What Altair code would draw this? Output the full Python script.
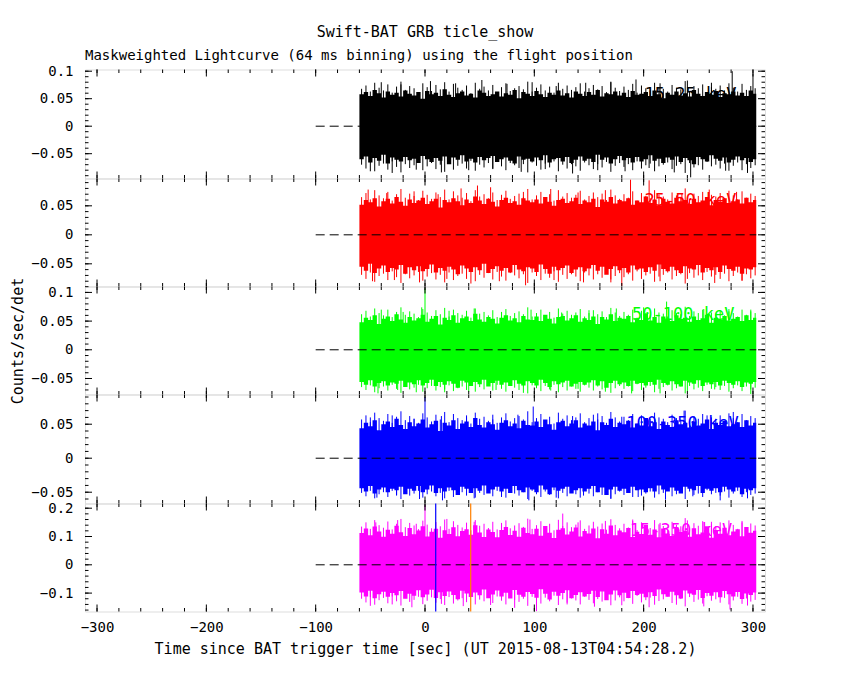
import altair as alt
import pandas as pd
import numpy as np

# ---------------- chart text ----------------
TITLE = "Swift-BAT GRB ticle_show"
SUBTITLE = "Maskweighted Lightcurve (64 ms binning) using the flight position"
XTITLE = "Time since BAT trigger time [sec] (UT 2015-08-13T04:54:28.2)"
YTITLE = "Counts/sec/det"

bands = ["15-25 keV", "25-50 keV", "50-100 keV", "100-350 keV", "15-350 keV"]
colors = ["#000000", "#ff0000", "#00ff00", "#0000ff", "#ff00ff"]

# ---------------- axes ----------------
x_domain = [-311, 311]
x_major = [-300, -200, -100, 0, 100, 200, 300]
x_minor = [-300, -280, -260, -240, -220, -200, -180, -160, -140, -120, -100, -80, -60, -40, -20,
           0, 20, 40, 60, 80, 100, 120, 140, 160, 180, 200, 220, 240, 260, 280, 300]
y_domains = [[-0.0951, 0.1031], [-0.0891, 0.0971], [-0.0779, 0.1103], [-0.0666, 0.0937], [-0.165, 0.2166]]
y_major = [[-0.05, 0, 0.05, 0.1], [-0.05, 0, 0.05], [-0.05, 0, 0.05, 0.1], [-0.05, 0, 0.05], [-0.1, 0, 0.1, 0.2]]
y_minor_step = [0.01, 0.01, 0.01, 0.01, 0.02]
panel_heights = [109, 108, 108, 109, 108]

# ---------------- light-curve envelopes (4 s bins from -60 s, units of 0.001) ----------------
T_START = -60
BIN = 4
T_END = 303
ZERO_FROM = -100

p1_hi = [58,62,55,66,60,52,63,57,61,54, 65,59,56,62,50,64,58,61,55,67, 57,53,60,63,56,59,52,65,61,55,
         58,63,54,60,57,66,51,62,59,55, 64,58,53,61,57,65,56,60,52,63, 59,55,62,57,66,54,60,58,63,56,
         61,53,64,57,59,62,55,65,58,51, 61,57,63,56,60,54,66,59,55,62, 57,64,53,60,58,63,56,61,55,65, 59]
p1_lo = [-60,-55,-66,-58,-63,-52,-68,-57,-61,-64, -56,-62,-59,-67,-54,-60,-65,-58,-63,-55, -69,-57,-61,-53,-64,-59,-66,-56,-62,-58,
         -54,-65,-60,-57,-63,-68,-55,-61,-59,-64, -57,-62,-53,-66,-60,-58,-64,-56,-67,-61, -55,-63,-59,-65,-52,-61,-57,-68,-60,-54,
         -62,-58,-66,-56,-64,-60,-53,-63,-59,-67, -57,-61,-55,-65,-58,-62,-69,-56,-60,-64, -53,-59,-63,-57,-66,-61,-55,-62,-58,-65, -60]
p2_hi = [52,60,56,63,49,58,62,54,65,57, 50,61,55,59,64,53,58,62,47,60, 56,63,58,51,61,55,66,59,53,62,
         57,49,60,64,55,58,52,63,59,56, 61,54,65,57,50,60,62,55,58,64, 53,59,56,62,48,61,57,65,54,60,
         58,63,52,59,56,66,55,61,50,62, 57,54,64,58,60,53,62,56,59,65, 51,60,57,63,55,58,61,54,64,56, 60]
p2_lo = [-55,-62,-50,-66,-58,-53,-64,-57,-60,-52, -67,-56,-61,-54,-63,-59,-51,-65,-57,-62, -55,-60,-68,-53,-58,-64,-56,-61,-50,-66,
         -59,-54,-62,-57,-65,-52,-60,-63,-56,-58, -64,-51,-59,-67,-55,-61,-57,-53,-66,-60, -56,-63,-58,-52,-62,-55,-69,-59,-54,-61,
         -57,-65,-53,-60,-58,-64,-56,-62,-51,-59, -63,-55,-61,-66,-54,-58,-60,-52,-65,-57, -61,-56,-64,-53,-59,-62,-55,-67,-58,-60, -56]
p3_hi = [48,56,52,60,45,54,58,50,62,53, 47,57,51,55,61,49,54,59,44,56, 52,60,47,55,58,50,63,53,49,57,
         54,46,56,60,51,55,48,59,53,52, 58,50,61,54,46,57,59,51,55,60, 49,55,52,58,45,57,53,62,50,56,
         54,59,48,55,52,63,51,57,47,58, 53,50,60,54,56,49,58,52,55,61, 47,56,53,59,51,54,57,50,60,52, 56]
p3_lo = [-56,-61,-53,-64,-58,-55,-62,-57,-59,-54, -65,-57,-60,-53,-62,-58,-52,-63,-56,-61, -55,-59,-66,-54,-57,-63,-56,-60,-52,-64,
         -58,-54,-61,-57,-63,-53,-59,-62,-55,-58, -62,-52,-58,-65,-55,-60,-57,-54,-64,-59, -56,-61,-57,-53,-62,-55,-66,-58,-54,-60,
         -57,-63,-54,-59,-58,-62,-56,-61,-52,-58, -61,-55,-60,-64,-54,-57,-59,-53,-63,-57, -60,-56,-62,-54,-58,-61,-55,-65,-57,-59, -56]
p4_hi = [44,52,47,56,41,50,54,46,58,49, 43,53,47,51,57,45,50,55,40,52, 48,56,43,51,54,46,59,49,45,53,
         50,42,52,56,47,51,44,55,49,48, 54,46,57,50,42,53,55,47,51,56, 45,51,48,54,41,53,49,58,46,52,
         50,55,44,51,48,59,47,53,43,54, 49,46,56,50,52,45,54,48,51,57, 43,52,49,55,47,50,53,46,56,48, 52]
p4_lo = [-44,-49,-41,-52,-46,-43,-50,-45,-47,-42, -53,-45,-48,-41,-50,-46,-40,-51,-44,-49, -43,-47,-54,-42,-45,-51,-44,-48,-40,-52,
         -46,-42,-49,-45,-51,-41,-47,-50,-43,-46, -50,-40,-46,-53,-43,-48,-45,-42,-52,-47, -44,-49,-45,-41,-50,-43,-54,-46,-42,-48,
         -45,-51,-42,-47,-46,-50,-44,-49,-40,-46, -49,-43,-48,-52,-42,-45,-47,-41,-51,-45, -48,-44,-50,-42,-46,-49,-43,-53,-45,-47, -44]
p5_hi = [112,128,104,135,118,99,124,110,138,115, 102,130,108,121,136,100,117,127,96,122, 109,133,101,119,126,106,140,114,98,125,
         116,97,123,134,105,120,99,131,112,108, 127,103,137,113,95,124,129,107,118,132, 100,119,111,128,94,126,110,139,104,121,
         115,130,98,117,109,141,106,125,97,128, 111,102,133,116,120,99,129,108,114,136, 96,122,110,131,104,118,126,101,134,113, 120]
p5_lo = [-98,-112,-92,-118,-104,-95,-113,-100,-108,-93, -120,-102,-109,-90,-115,-105,-88,-117,-97,-110,
         -94,-107,-122,-92,-101,-114,-98,-108,-87,-118, -105,-91,-112,-99,-119,-89,-106,-113,-96,-103,
         -116,-86,-102,-123,-95,-109,-100,-90,-118,-107, -97,-112,-103,-92,-114,-94,-125,-105,-91,-108,
         -99,-117,-93,-107,-102,-115,-97,-110,-87,-104, -113,-95,-108,-119,-91,-101,-106,-89,-117,-100,
         -109,-97,-115,-93,-104,-112,-96,-121,-101,-107, -98]

# ---------------- hair spikes, one per bin at its centre (units of 0.001) ----------------
p1_up = [68,74,63,79,70,65,76,61,72,81, 66,73,69,62,78,71,64,75,67,80, 63,77,70,66,74,60,79,68,72,65,
         75,62,71,78,64,69,73,67,81,63, 70,76,65,72,61,79,68,74,66,71, 78,63,69,75,67,73,62,80,70,64,
         72,66,77,61,74,69,65,79,71,68, 63,75,70,67,82,64,73,69,76,62, 71,68,74,65,78,70,63,77,66,73, 69]
p1_dn = [-70,-77,-66,-82,-72,-68,-79,-64,-74,-84, -69,-76,-71,-65,-80,-73,-67,-78,-70,-83, -66,-79,-72,-68,-77,-63,-81,-70,-75,-67,
         -78,-65,-73,-80,-67,-71,-76,-69,-84,-66, -72,-79,-68,-75,-64,-82,-70,-77,-69,-73, -81,-66,-71,-78,-69,-75,-65,-83,-72,-67,
         -74,-69,-80,-64,-77,-71,-68,-82,-73,-70, -66,-78,-72,-69,-85,-67,-75,-71,-79,-65, -73,-70,-77,-68,-81,-72,-66,-80,-69,-76, -71]
p2_up = [65,72,61,77,68,63,74,59,70,79, 64,71,67,60,76,69,62,73,65,78, 61,75,68,64,72,58,77,66,70,63,
         73,60,69,76,62,67,71,65,79,61, 68,74,63,70,59,77,66,72,64,69, 76,61,67,73,65,71,60,78,68,62,
         70,64,75,59,72,67,63,77,69,66, 61,73,68,65,80,62,71,67,74,60, 69,66,72,63,76,68,61,75,64,71, 67]
p2_dn = [-69,-76,-65,-81,-71,-67,-78,-63,-73,-83, -68,-75,-70,-64,-79,-72,-66,-77,-69,-82, -65,-78,-71,-67,-76,-62,-80,-69,-74,-66,
         -77,-64,-72,-79,-66,-70,-75,-68,-83,-65, -71,-78,-67,-74,-63,-81,-69,-76,-68,-72, -80,-65,-70,-77,-68,-74,-64,-82,-71,-66,
         -73,-68,-79,-63,-76,-70,-67,-81,-72,-69, -65,-77,-71,-68,-84,-66,-74,-70,-78,-64, -72,-69,-76,-67,-80,-71,-65,-79,-68,-75, -70]
p3_up = [62,68,58,72,64,60,70,57,66,74, 61,67,63,57,71,65,59,69,62,73, 58,70,64,61,68,56,72,63,66,60,
         69,57,65,71,59,64,67,62,74,58, 64,70,60,66,56,72,63,68,61,65, 71,58,64,69,62,67,57,73,65,59,
         66,61,70,56,68,64,60,72,65,63, 58,69,64,62,75,59,67,64,70,57, 65,63,68,60,71,64,58,70,61,67, 64]
p3_dn = [-65,-70,-62,-74,-67,-64,-71,-61,-68,-75, -64,-69,-66,-61,-73,-67,-63,-71,-65,-74, -62,-72,-67,-64,-70,-60,-73,-65,-69,-63,
         -71,-61,-68,-73,-63,-66,-70,-64,-76,-62, -67,-72,-63,-69,-61,-74,-65,-71,-64,-68, -73,-62,-66,-71,-64,-69,-61,-75,-67,-63,
         -68,-64,-72,-60,-70,-66,-63,-74,-68,-65, -62,-71,-67,-64,-76,-63,-69,-66,-72,-61, -68,-65,-70,-63,-73,-67,-62,-72,-64,-69, -66]
p4_up = [57,63,53,67,59,55,65,52,61,69, 56,62,58,52,66,60,54,64,57,68, 53,65,59,56,63,51,67,58,61,55,
         64,52,60,66,54,59,62,57,69,53, 59,65,55,61,51,67,58,63,56,60, 66,53,59,64,57,62,52,68,60,54,
         61,56,65,51,63,59,55,67,60,58, 53,64,59,57,70,54,62,58,65,52, 60,58,63,55,66,59,53,65,56,62, 59]
p4_dn = [-51,-56,-48,-59,-53,-50,-57,-48,-54,-60, -50,-55,-52,-48,-58,-53,-49,-56,-51,-59, -48,-57,-53,-50,-55,-47,-58,-51,-54,-49,
         -56,-48,-53,-58,-49,-52,-55,-50,-60,-48, -53,-57,-49,-54,-47,-59,-51,-56,-50,-53, -58,-48,-52,-56,-50,-54,-47,-59,-53,-49,
         -54,-50,-57,-47,-55,-52,-49,-58,-53,-51, -48,-56,-53,-50,-60,-49,-54,-52,-57,-47, -53,-51,-55,-49,-58,-52,-48,-57,-50,-54, -52]
p5_up = [135,150,127,158,140,131,153,125,145,162, 133,148,139,126,156,142,129,151,136,160, 127,154,141,132,149,122,158,138,145,130,
         152,125,143,157,129,139,147,134,163,127, 140,154,130,145,122,159,137,150,133,142, 157,127,139,152,135,146,124,161,141,129,
         145,132,155,123,150,140,130,158,143,137, 126,152,141,136,165,128,147,138,154,125, 143,137,150,131,157,141,127,155,133,146, 139]
p5_dn = [-120,-133,-114,-141,-125,-117,-136,-112,-129,-144, -118,-131,-124,-113,-139,-127,-115,-134,-121,-142,
         -114,-137,-126,-118,-132,-109,-140,-123,-129,-116, -135,-112,-127,-140,-115,-124,-131,-120,-145,-113,
         -125,-137,-116,-129,-109,-142,-122,-134,-119,-126, -140,-113,-124,-136,-121,-130,-111,-143,-126,-115,
         -129,-118,-138,-110,-133,-125,-116,-141,-128,-122, -112,-135,-126,-121,-147,-114,-131,-123,-137,-111,
         -127,-122,-134,-117,-140,-126,-113,-138,-119,-130, -124]

# ---------------- individual strong spikes (time s, value x0.001) ----------------
p1_spk_t = [-40,-22,5,28,52,75,98,120,147,170,193,215,240,262,281,300,
            -50,-30,-8,15,40,62,88,110,135,158,183,205,228,243,275,295]
p1_spk_v = [80,76,82,78,84,77,80,73,79,81,85,78,83,79,100,96,
            -82,-85,-79,-84,-80,-77,-83,-78,-86,-80,-82,-76,-84,-93,-81,-85]
p2_spk_t = [-52,-35,-10,12,33,48,60,90,115,140,165,188,205,235,260,285,
            -48,-28,-5,20,42,68,92,118,145,170,180,215,240,265,290]
p2_spk_v = [78,72,75,70,80,85,82,74,79,73,77,95,94,71,78,74,
            -80,-78,-82,-76,-84,-80,-87,-78,-82,-77,-88,-80,-76,-83,-79]
p3_spk_t = [0,-40,-20,-3,22,45,70,97,125,150,175,200,221,255,278,298,
            -43,-25,-8,18,40,65,90,115,140,165,189,215,240,265,298]
p3_spk_v = [107,70,66,74,68,72,66,70,65,69,72,74,84,71,67,70,
            -76,-70,-74,-69,-73,-70,-75,-71,-68,-73,-76,-76,-72,-69,-77]
p4_spk_t = [0,-50,-30,-10,15,38,62,85,99,135,158,180,206,237,258,282,
            -44,-26,-5,16,45,70,95,120,145,170,195,220,245,270,295]
p4_spk_v = [90,60,63,58,62,60,57,64,76,62,66,61,58,70,63,68,
            -58,-55,-60,-62,-59,-57,-62,-58,-55,-60,-57,-61,-56,-62,-59]
p5_spk_t = [0,-45,-25,-8,20,45,70,96,126,140,165,190,215,240,262,290,
            -50,-30,-12,15,35,60,82,102,130,155,180,205,230,255,279,295]
p5_spk_v = [212,150,158,145,162,152,148,160,181,150,155,160,148,157,152,150,
            -145,-140,-150,-138,-146,-142,-152,-164,-140,-148,-143,-150,-141,-147,-158,-144]

# ---------------- labels / markers ----------------
label_t = [285, 285, 283, 287, 281]
label_v = [0.056, 0.059, 0.0615, 0.051, 0.121]
marker_t = [9.8, 41.8]
marker_colors = ["#0000ff", "#ff8000"]

his = [p1_hi, p2_hi, p3_hi, p4_hi, p5_hi]
los = [p1_lo, p2_lo, p3_lo, p4_lo, p5_lo]
ups = [p1_up, p2_up, p3_up, p4_up, p5_up]
dns = [p1_dn, p2_dn, p3_dn, p4_dn, p5_dn]
spk_t = [p1_spk_t, p2_spk_t, p3_spk_t, p4_spk_t, p5_spk_t]
spk_v = [p1_spk_v, p2_spk_v, p3_spk_v, p4_spk_v, p5_spk_v]

W = 680
FONT = "DejaVu Sans Mono"
FS = 14
MAJ = 7
MIN = 3.5


def panel(i):
    color = colors[i]
    H = panel_heights[i]
    bottom = (i == 4)
    xs = alt.Scale(domain=x_domain, nice=False, zero=False)
    ys = alt.Scale(domain=y_domains[i], nice=False, zero=False)

    if bottom:
        xaxis = alt.Axis(values=x_major, format="d", ticks=False, tickSize=0, domain=False, grid=False,
                         labelFontSize=FS, labelFont=FONT, labelColor="black", labelPadding=9,
                         labelFlush=False, title=XTITLE, titleFont=FONT, titleFontSize=15,
                         titleFontWeight="normal", titleColor="black", titlePadding=7)
    else:
        xaxis = None
    yaxis = alt.Axis(values=y_major[i], format="~g", ticks=False, tickSize=0, domain=False, grid=False,
                     labelFontSize=FS, labelFont=FONT, labelColor="black", labelPadding=12,
                     labelFlush=False, labelOverlap=False,
                     title=(YTITLE if i == 2 else None), titleFont=FONT, titleFontSize=15,
                     titleFontWeight="normal", titleColor="black", titlePadding=5)

    rows = [{"t": T_START + k * BIN, "hi": h / 1000, "lo": l / 1000} for k, (h, l) in enumerate(zip(his[i], los[i]))]
    rows.append({"t": T_END, "hi": his[i][-1] / 1000, "lo": los[i][-1] / 1000})
    band_df = pd.DataFrame(rows)

    X = lambda f: alt.X(f, scale=xs, axis=xaxis)
    Y = lambda f: alt.Y(f, scale=ys, axis=yaxis)

    band = alt.Chart(band_df).mark_area(color=color, interpolate="step-after", clip=True, opacity=1).encode(
        x=X("t:Q"), y=Y("hi:Q"), y2="lo:Q")

    hair_rows = []
    for k, (u, d) in enumerate(zip(ups[i], dns[i])):
        tc = T_START + k * BIN + BIN / 2
        if tc <= T_END:
            hair_rows.append({"t": tc, "v": u / 1000, "z": 0.0})
            hair_rows.append({"t": tc, "v": d / 1000, "z": 0.0})
    for t, v in zip(spk_t[i], spk_v[i]):
        hair_rows.append({"t": t, "v": v / 1000, "z": 0.0})
    hair_df = pd.DataFrame(hair_rows)
    hairs = alt.Chart(hair_df).mark_rule(color=color, strokeWidth=1, clip=True).encode(
        x=X("t:Q"), y=Y("v:Q"), y2="z:Q")

    zero_df = pd.DataFrame({"t0": [ZERO_FROM], "t1": [T_END], "v": [0.0]})
    zero = alt.Chart(zero_df).mark_rule(color="black", strokeWidth=1, strokeDash=[9, 5]).encode(
        x=X("t0:Q"), x2="t1:Q", y=Y("v:Q"))

    lab_df = pd.DataFrame({"t": [label_t[i]], "v": [label_v[i]], "txt": [bands[i]]})
    lab = alt.Chart(lab_df).mark_text(color=color, align="right", baseline="middle", font=FONT,
                                      fontSize=17).encode(x=X("t:Q"), y=Y("v:Q"), text="txt:N")

    # inward tick marks on all four sides
    xmaj_df = pd.DataFrame({"t": x_major})
    xmin_df = pd.DataFrame({"t": x_minor})
    ymin_vals = [round(v, 4) for v in np.arange(-0.3, 0.3001, y_minor_step[i])
                 if y_domains[i][0] <= round(v, 4) <= y_domains[i][1]]
    ymaj_df = pd.DataFrame({"v": y_major[i]})
    ymin_df = pd.DataFrame({"v": ymin_vals})
    tk = []
    for df, ln in [(xmaj_df, MAJ), (xmin_df, MIN)]:
        tk.append(alt.Chart(df).mark_rule(color="black", strokeWidth=1).encode(
            x=X("t:Q"), y=alt.value(H), y2=alt.value(H - ln)))
        tk.append(alt.Chart(df).mark_rule(color="black", strokeWidth=1).encode(
            x=X("t:Q"), y=alt.value(0), y2=alt.value(ln)))
    for df, ln in [(ymaj_df, MAJ), (ymin_df, MIN)]:
        tk.append(alt.Chart(df).mark_rule(color="black", strokeWidth=1).encode(
            y=Y("v:Q"), x=alt.value(0), x2=alt.value(ln)))
        tk.append(alt.Chart(df).mark_rule(color="black", strokeWidth=1).encode(
            y=Y("v:Q"), x=alt.value(W), x2=alt.value(W - ln)))

    layers = [band, hairs, lab, zero] + tk

    if bottom:
        mk_df = pd.DataFrame({"t": marker_t, "c": marker_colors})
        mk = alt.Chart(mk_df).mark_rule(strokeWidth=1.2).encode(
            x=X("t:Q"), y=alt.value(0), y2=alt.value(H),
            color=alt.Color("c:N", scale=None))
        layers.append(mk)

    if i == 0:
        sub_df = pd.DataFrame({"s": [SUBTITLE]})
        sub = alt.Chart(sub_df).mark_text(align="left", baseline="middle", font=FONT, fontSize=FS,
                                          color="black").encode(
            x=alt.value(0), y=alt.value(-14), text="s:N")
        layers.append(sub)

    return alt.layer(*layers).properties(width=W, height=H)


chart = alt.vconcat(*[panel(i) for i in range(5)], spacing=0, bounds="flush").properties(
    title=alt.TitleParams(TITLE, anchor="middle", font=FONT, fontSize=15, fontWeight="normal",
                          color="black", offset=8, frame="group"),
    padding={"left": 2, "top": 16.5, "right": 5, "bottom": 5},
    background="white",
).configure_view(stroke="black", strokeWidth=1).configure(font=FONT)

chart.save("out.html", embed_options={"renderer": "svg", "actions": False})
